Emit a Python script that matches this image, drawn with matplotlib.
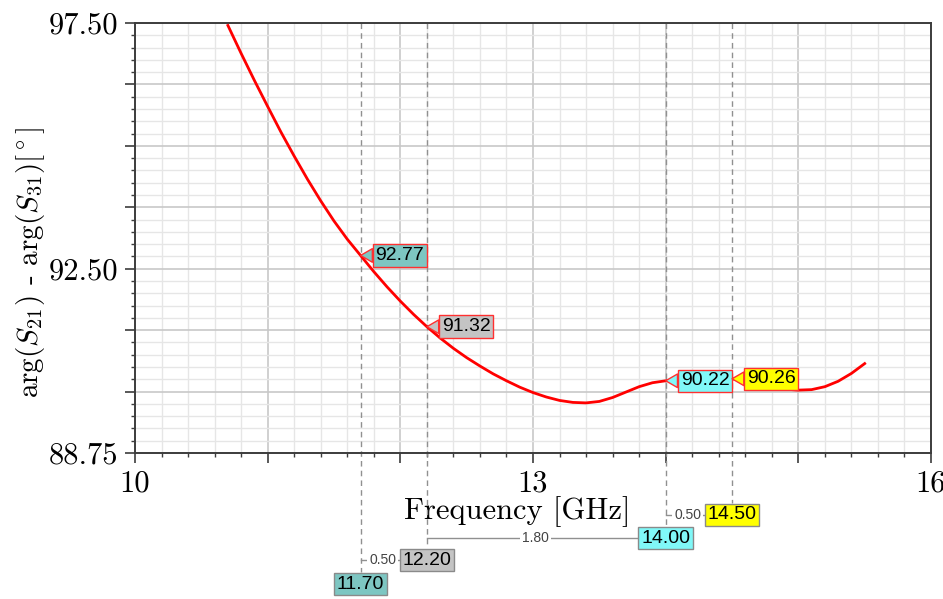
import matplotlib
matplotlib.use("Agg")
from matplotlib import pyplot as plt
from matplotlib.ticker import MultipleLocator, FuncFormatter

plt.rcParams['font.family'] = 'cmr10'
plt.rcParams['mathtext.fontset'] = 'cm'
plt.rcParams['axes.formatter.use_mathtext'] = True

# phase difference curve
freq = [10.7, 10.8, 10.9, 11.0, 11.1, 11.2, 11.3, 11.4, 11.5, 11.6,
        11.7, 11.8, 11.9, 12.0, 12.1, 12.2, 12.3, 12.4, 12.5, 12.6,
        12.7, 12.8, 12.9, 13.0, 13.1, 13.2, 13.3, 13.4, 13.5, 13.6,
        13.7, 13.8, 13.9, 14.0, 14.1, 14.2, 14.3, 14.4, 14.5, 14.6,
        14.7, 14.8, 14.9, 15.0, 15.1, 15.2, 15.3, 15.4, 15.5]
phase = [97.45, 96.88, 96.33, 95.80, 95.28, 94.79, 94.32, 93.88, 93.47, 93.10,
         92.77, 92.44, 92.13, 91.84, 91.57, 91.32, 91.09, 90.88, 90.69, 90.52,
         90.36, 90.22, 90.09, 89.98, 89.89, 89.82, 89.78, 89.77, 89.80, 89.88,
         89.99, 90.10, 90.18, 90.22, 90.25, 90.27, 90.28, 90.27, 90.26, 90.22,
         90.16, 90.10, 90.05, 90.03, 90.04, 90.10, 90.21, 90.37, 90.57]

# markers
mk_freq = [11.70, 12.20, 14.00, 14.50]
mk_val = [92.77, 91.32, 90.22, 90.26]
mk_color = ['#7dc6c2', '#c4c4c4', '#80f8f8', '#ffff00']

x_labels = {10: '10', 13: '13', 16: '16'}
y_labels = {97.5: '97.50', 92.5: '92.50', 88.75: '88.75'}

fig = plt.figure(figsize=(9.43, 5.99), dpi=100)
ax = fig.add_axes([0.1432, 0.2437, 0.8441, 0.7179])

ax.plot(freq, phase, color='red', lw=2, zorder=3)
ax.set_xlim(10, 16)
ax.set_ylim(88.75, 97.5)

ax.xaxis.set_major_locator(MultipleLocator(1))
ax.xaxis.set_minor_locator(MultipleLocator(0.2))
ax.yaxis.set_major_locator(MultipleLocator(1.25))
ax.yaxis.set_minor_locator(MultipleLocator(0.25))
ax.xaxis.set_major_formatter(FuncFormatter(lambda v, p: x_labels.get(round(v, 2), '')))
ax.yaxis.set_major_formatter(FuncFormatter(lambda v, p: y_labels.get(round(v, 2), '')))

ax.grid(which='major', color='#c8c8c8', lw=1.2, zorder=0)
ax.grid(which='minor', color='#e6e6e6', lw=1.0, zorder=0)
ax.set_axisbelow(True)
for s in ax.spines.values():
    s.set_color('#3c3c3c')
    s.set_linewidth(1.4)
ax.tick_params(which='major', direction='out', length=7, width=1.2, color='#3c3c3c',
               labelsize=22, pad=5)
ax.tick_params(which='minor', direction='out', length=3, width=1.0, color='#3c3c3c')

ax.set_xlabel('Frequency [GHz]', fontsize=22)
ax.xaxis.set_label_coords(0.48, -0.100)
ax.set_ylabel(r'arg$(S_{21})$ - arg$(S_{31})$[$^\circ$]', fontsize=21)
ax.yaxis.set_label_coords(-0.111, 0.444)

sans = ['Liberation Sans']
xt = ax.get_xaxis_transform()

# marker callouts on the curve
for f, v, c in zip(mk_freq, mk_val, mk_color):
    ax.annotate('%.2f' % v, xy=(f, v), xytext=(15, 0), textcoords='offset pixels',
                ha='left', va='center', fontsize=14, family=sans, zorder=6,
                bbox=dict(boxstyle='square,pad=0.14', fc=c, ec='#ff3030', lw=1),
                arrowprops=dict(arrowstyle='wedge,tail_width=0.7,shrink_factor=0.5',
                                fc=c, ec='#ff3030', lw=1, relpos=(0, 0.5),
                                shrinkA=0, shrinkB=0))

# dashed marker lines running down to the frequency readouts
line_end = [-0.277, -0.221, -0.170, -0.116]
box_y = [-0.305, -0.249, -0.198, -0.144]
for f, y0 in zip(mk_freq, line_end):
    ax.plot([f, f], [1, y0], transform=xt, clip_on=False, color='#909090',
            lw=1, ls=(0, (4, 3)), zorder=2)

for f, y0, c in zip(mk_freq, box_y, mk_color):
    ax.text(f, y0, '%.2f' % f, transform=xt, ha='center', va='center', fontsize=14,
            family=sans, clip_on=False, zorder=7,
            bbox=dict(boxstyle='square,pad=0.14', fc=c, ec='#8a8a8a', lw=1))

# frequency differences between markers
pairs = [(0, 1), (1, 2), (2, 3)]
for a, b in pairs:
    ya = box_y[b]
    ax.plot([mk_freq[a], mk_freq[b]], [ya, ya], transform=xt, clip_on=False,
            color='#909090', lw=1, zorder=4)
    ax.annotate('%.2f' % (mk_freq[b] - mk_freq[a]), xy=((mk_freq[a] + mk_freq[b]) / 2, ya),
                xycoords=xt, xytext=(-11, 0), textcoords='offset pixels',
                ha='center', va='center', fontsize=10, family=sans, color='#444444',
                annotation_clip=False, zorder=5,
                bbox=dict(boxstyle='square,pad=0.15', fc='white', ec='none'))

fig.savefig('out.png', dpi=100)
